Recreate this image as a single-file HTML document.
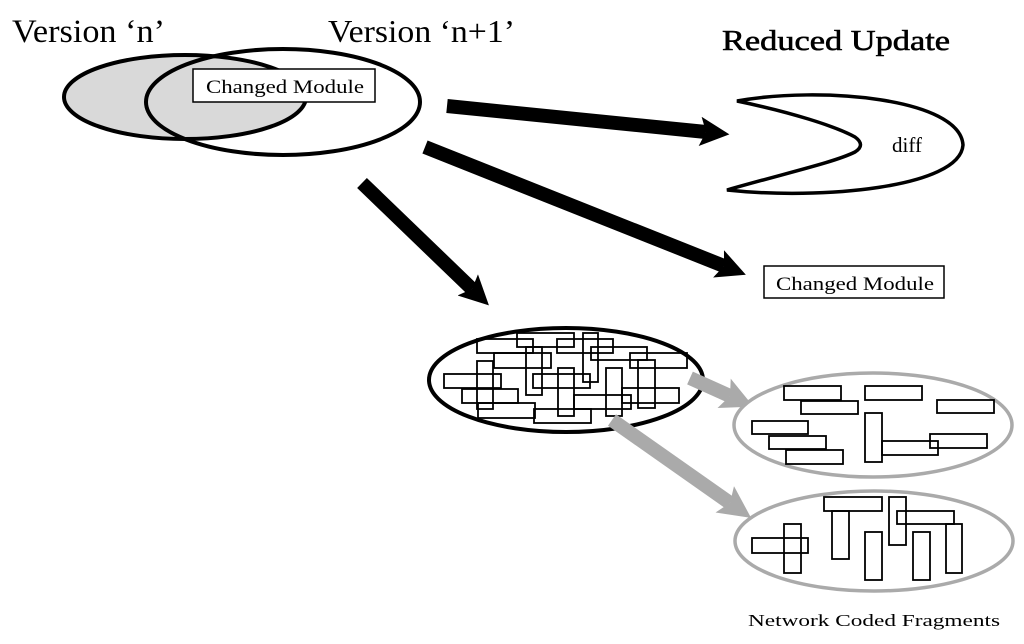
<!DOCTYPE html>
<html><head><meta charset="utf-8"><style>
html,body{margin:0;padding:0;background:#fff;width:1024px;height:644px;overflow:hidden}
svg text{font-family:"Liberation Serif",serif;fill:#000}
</style></head><body>
<svg width="1024" height="644" viewBox="0 0 1024 644" xmlns="http://www.w3.org/2000/svg">
<defs>
<marker id="hb" viewBox="0 0 10 10" refX="2" refY="5" markerWidth="2.1" markerHeight="2.1" orient="auto" markerUnits="strokeWidth">
<path d="M0,0 L10,5 L0,10 L2,5 Z" fill="#000"/></marker>
<marker id="hg" viewBox="0 0 10 10" refX="2" refY="5" markerWidth="2.3" markerHeight="2.3" orient="auto" markerUnits="strokeWidth">
<path d="M0,0 L10,5 L0,10 L2,5 Z" fill="#aaa"/></marker>
</defs>
<text x="12" y="42" font-size="33" textLength="153" lengthAdjust="spacingAndGlyphs">Version ‘n’</text>
<text x="328" y="42" font-size="32" textLength="187" lengthAdjust="spacingAndGlyphs">Version ‘n+1’</text>
<text x="722" y="50" font-size="29" textLength="228" lengthAdjust="spacingAndGlyphs" stroke="#000" stroke-width="0.6">Reduced Update</text>

<ellipse cx="185" cy="97" rx="121" ry="42" fill="#d9d9d9" stroke="#000" stroke-width="4"/>
<ellipse cx="283" cy="102" rx="137" ry="53" fill="none" stroke="#000" stroke-width="4"/>
<rect x="193" y="69" width="182" height="33" fill="#fff" stroke="#000" stroke-width="1.5"/>
<text x="206" y="93" font-size="19" textLength="158" lengthAdjust="spacingAndGlyphs">Changed Module</text>

<path d="M737,101 C820,86 960,98 963,145 C960,188 820,200 727,190 C790,172 835,162 855,152 Q866,145 855,137 C835,126 790,112 737,101 Z" fill="#fff" stroke="#000" stroke-width="3.5"/>
<text x="892" y="152" font-size="21">diff</text>

<g stroke="#000" stroke-width="14" fill="none">
<line x1="447" y1="106" x2="706" y2="132" marker-end="url(#hb)"/>
<line x1="425" y1="147" x2="724" y2="266" marker-end="url(#hb)"/>
<line x1="362" y1="183" x2="472" y2="289" marker-end="url(#hb)"/>
</g>

<rect x="764" y="266" width="180" height="32" fill="#fff" stroke="#000" stroke-width="1.5"/>
<text x="776" y="290" font-size="19" textLength="158" lengthAdjust="spacingAndGlyphs">Changed Module</text>

<ellipse cx="566" cy="380" rx="137" ry="52" fill="#fff" stroke="#000" stroke-width="4"/>
<g fill="none" stroke="#000" stroke-width="1.8">
<rect x="517" y="333" width="57" height="14"/>
<rect x="477" y="339" width="56" height="14"/>
<rect x="557" y="339" width="56" height="14"/>
<rect x="583" y="333" width="15" height="49"/>
<rect x="591" y="347" width="56" height="13"/>
<rect x="526" y="347" width="16" height="48"/>
<rect x="494" y="353" width="57" height="15"/>
<rect x="630" y="353" width="57" height="15"/>
<rect x="638" y="360" width="17" height="48"/>
<rect x="477" y="361" width="16" height="48"/>
<rect x="444" y="374" width="57" height="14"/>
<rect x="533" y="374" width="57" height="14"/>
<rect x="558" y="368" width="16" height="48"/>
<rect x="606" y="368" width="16" height="48"/>
<rect x="462" y="389" width="56" height="14"/>
<rect x="574" y="395" width="57" height="14"/>
<rect x="622" y="388" width="57" height="15"/>
<rect x="478" y="403" width="57" height="15"/>
<rect x="534" y="409" width="57" height="14"/>
</g>

<g stroke="#aaa" stroke-width="14" fill="none">
<line x1="690" y1="378" x2="730" y2="396" marker-end="url(#hg)"/>
<line x1="612" y1="420" x2="730" y2="503" marker-end="url(#hg)"/>
</g>

<ellipse cx="873" cy="425" rx="139" ry="52" fill="#fff" stroke="#aaa" stroke-width="3.5"/>
<g fill="none" stroke="#000" stroke-width="1.8">
<rect x="784" y="386" width="57" height="14"/>
<rect x="865" y="386" width="57" height="14"/>
<rect x="937" y="400" width="57" height="13"/>
<rect x="801" y="401" width="57" height="13"/>
<rect x="752" y="421" width="56" height="13"/>
<rect x="769" y="436" width="57" height="13"/>
<rect x="786" y="450" width="57" height="14"/>
<rect x="865" y="413" width="17" height="49"/>
<rect x="882" y="441" width="56" height="14"/>
<rect x="930" y="434" width="57" height="14"/>
</g>

<ellipse cx="874" cy="541" rx="139" ry="50" fill="#fff" stroke="#aaa" stroke-width="3.5"/>
<g fill="none" stroke="#000" stroke-width="1.8">
<rect x="752" y="538" width="56" height="15"/>
<rect x="784" y="524" width="17" height="49"/>
<rect x="824" y="497" width="58" height="14"/>
<rect x="832" y="511" width="17" height="48"/>
<rect x="865" y="532" width="17" height="48"/>
<rect x="889" y="497" width="17" height="48"/>
<rect x="897" y="511" width="57" height="13"/>
<rect x="913" y="532" width="17" height="48"/>
<rect x="946" y="524" width="16" height="49"/>
</g>

<text x="748" y="626" font-size="17" textLength="252" lengthAdjust="spacingAndGlyphs">Network Coded Fragments</text>
</svg>
</body></html>
